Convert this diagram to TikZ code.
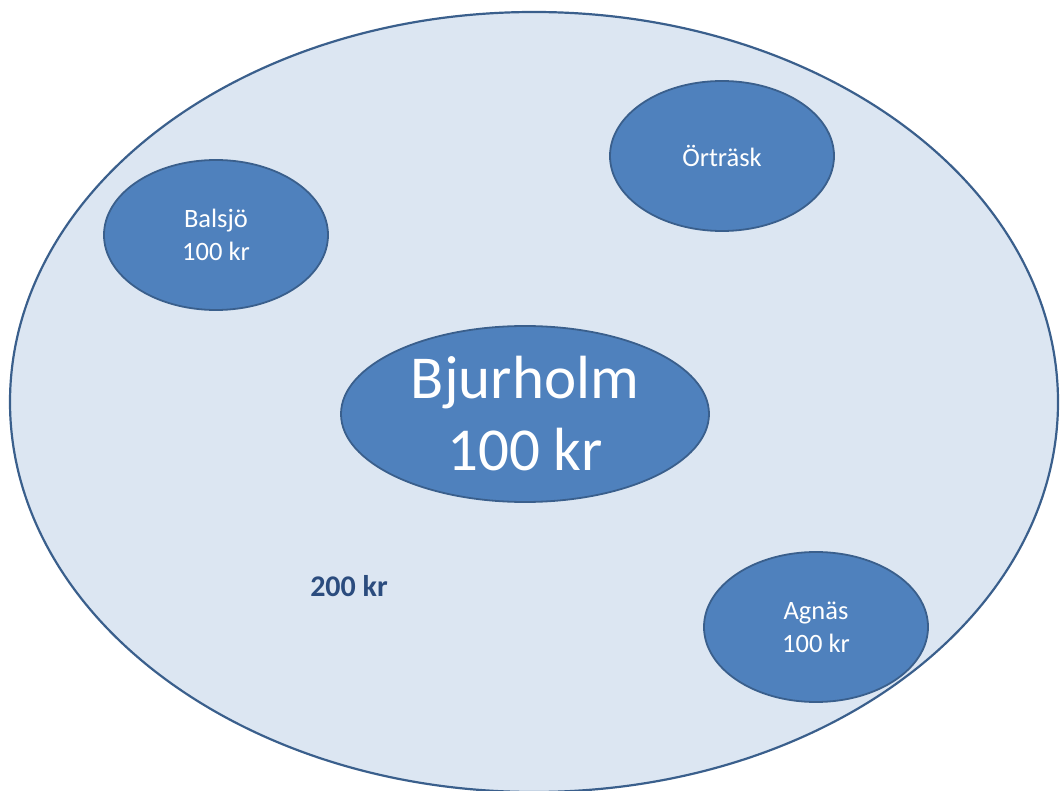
\documentclass[tikz,border=0pt]{standalone}
\usepackage{fontspec}
\setmainfont{Carlito}
\usetikzlibrary{shapes.geometric}
\definecolor{outerfill}{HTML}{DCE6F2}
\definecolor{edgeblue}{HTML}{3A5F8C}
\definecolor{innerfill}{HTML}{4F81BD}
\definecolor{labelblue}{HTML}{2B4C7E}
\tikzset{
  region/.style={ellipse, draw=edgeblue, line width=2.2pt, fill=outerfill, inner sep=0pt},
  village/.style={ellipse, draw=edgeblue, line width=1.8pt, fill=innerfill, inner sep=0pt,
    text=white, align=center, minimum width=224pt, minimum height=150pt,
    font=\fontsize{26.5}{33}\selectfont},
  town/.style={village, minimum width=368pt, minimum height=176pt,
    font=\fontsize{61}{72}\selectfont},
  price/.style={text=labelblue, font=\fontsize{30}{33}\selectfont\bfseries}
}
\begin{document}
\begin{tikzpicture}[x=1pt,y=-1pt]
\useasboundingbox (0,0) rectangle (1060,791);
\clip (0,0) rectangle (1060,791);
\node[region, minimum width=1048pt, minimum height=780pt] (kommun) at (534,402) {};
\node[village] (balsjo) at (216,235) {Balsjö\\100 kr};
\node[village] (ortrask) at (722,156) {Örträsk};
\node[town] (bjurholm) at (525,414) {Bjurholm\\100 kr};
\node[village] (agnas) at (816,627) {Agnäs\\100 kr};
\node[price] (landsbygd) at (349,586) {200 kr};
\end{tikzpicture}
\end{document}
